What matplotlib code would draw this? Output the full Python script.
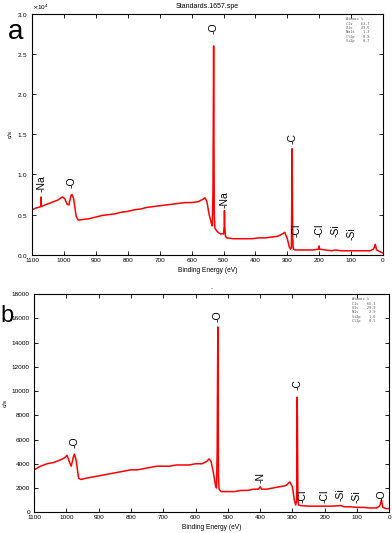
import matplotlib
matplotlib.use('Agg')
import matplotlib.pyplot as plt
from matplotlib.ticker import ScalarFormatter

plt.rcParams['font.family'] = ['Liberation Sans', 'DejaVu Sans']

# ---- panel a : survey spectrum (c/s) ----
energy_a = [1100, 1090, 1080, 1073, 1072, 1071, 1060, 1040, 1020, 1005, 998, 990, 985,
            978, 975, 970, 962, 955, 940, 920, 900, 880, 860, 840, 820, 800, 780, 760,
            740, 720, 700, 680, 660, 640, 620, 600, 580, 565, 558, 552, 545, 538, 535,
            533, 531, 529, 527, 520, 510, 500, 498, 497, 496, 494, 490, 470, 450, 430,
            410, 390, 370, 350, 330, 315, 308, 300, 294, 290, 287, 285, 283, 281, 275,
            260, 240, 220, 201, 200, 199, 180, 160, 150, 130, 110, 100, 80, 60, 40, 30,
            26, 24, 20, 10, 5, 0]
counts_a = [5600, 5800, 5900, 6000, 7200, 6000, 6200, 6500, 6800, 7200, 7000, 6300, 6200,
            7400, 7500, 7000, 4800, 4300, 4400, 4500, 4700, 4900, 5000, 5100, 5300, 5400,
            5600, 5700, 5900, 6000, 6100, 6200, 6300, 6400, 6500, 6500, 6600, 6900, 7100,
            6600, 5000, 3900, 3600, 8000, 26000, 5000, 3300, 2900, 2600, 2600, 3500, 5500,
            3500, 2300, 2100, 2000, 2000, 2000, 2000, 2100, 2100, 2200, 2300, 2600, 2800,
            2000, 1000, 700, 900, 13200, 2000, 700, 600, 600, 600, 600, 700, 1100, 700,
            600, 500, 600, 500, 500, 500, 500, 500, 500, 700, 1000, 1300, 600, 400, 300, 200]
labels_a = ['-Na', '-O', '-O', '-Na', '-C', '-Cl', '-Cl', '-Si', '-Si']
label_x_a = [1072, 975, 532, 497, 285, 270, 200, 150, 100]
label_y_a = [7800, 8300, 27500, 5800, 13800, 2200, 2200, 2200, 1900]
table_a = "Atomic %\nC1s    63.7\nO1s    33.5\nNa1s    1.3\nCl2p    0.8\nSi2p    0.7"

# ---- panel b ----
energy_b = [1100, 1080, 1060, 1040, 1020, 1005, 998, 990, 985, 978, 975, 970, 962, 955,
            940, 920, 900, 880, 860, 840, 820, 800, 780, 760, 740, 720, 700, 680, 660,
            640, 620, 600, 580, 565, 558, 552, 545, 538, 535, 533, 531, 529, 527, 520,
            500, 480, 460, 440, 420, 405, 400, 395, 380, 360, 340, 320, 308, 300, 294,
            290, 287, 285, 283, 281, 275, 250, 220, 200, 180, 150, 140, 120, 100, 80,
            60, 40, 30, 26, 24, 20, 10, 0]
counts_b = [3500, 3800, 4000, 4100, 4300, 4500, 4700, 4100, 3800, 4600, 4800, 4300, 2800,
            2700, 2800, 2900, 3000, 3100, 3200, 3300, 3400, 3500, 3500, 3600, 3700, 3800,
            3800, 3800, 3900, 3900, 3900, 4000, 4000, 4200, 4400, 4200, 3300, 2200, 2000,
            5000, 15300, 3000, 1900, 1700, 1700, 1700, 1800, 1800, 1900, 1900, 2100, 1900,
            1900, 2000, 2100, 2200, 2500, 2100, 1000, 600, 900, 9500, 1500, 600, 550, 500,
            500, 500, 500, 550, 450, 450, 400, 400, 350, 350, 500, 800, 1000, 400, 300, 300]
labels_b = ['-O', '-O', '-N', '-C', '-Cl', '-Cl', '-Si', '-Si', '-O']
label_x_b = [975, 532, 400, 285, 270, 200, 150, 100, 25]
label_y_b = [5300, 15700, 2400, 10100, 800, 800, 900, 800, 900]
table_b = "Atomic %\nC1s    65.1\nO1s    29.9\nN1s     2.9\nSi2p    1.6\nCl2p    0.5"

xticks = list(range(0, 1101, 100))

fig = plt.figure(figsize=(3.92, 5.33), dpi=100)
ax1 = fig.add_axes([0.082, 0.522, 0.895, 0.452])
ax2 = fig.add_axes([0.087, 0.039, 0.906, 0.409])

def style_ax(ax, ymax, ystep):
    ax.set_xlim(1100, 0)
    ax.set_ylim(0, ymax)
    ax.set_xticks(xticks)
    ax.set_yticks(range(0, ymax + 1, ystep))
    ax.tick_params(direction='in', top=True, right=True, length=3, width=0.6,
                   labelsize=4.6, pad=2)
    ax.tick_params(axis='y', pad=3)
    for s in ax.spines.values():
        s.set_linewidth(0.8)
    ax.set_xlabel('Binding Energy (eV)', fontsize=4.8, labelpad=3)
    ax.set_ylabel('c/s', fontsize=4.6, labelpad=3)

ax1.plot(energy_a, counts_a, color='red', lw=1.1)
style_ax(ax1, 30000, 5000)
fmt = ScalarFormatter(useMathText=True)
fmt.set_powerlimits((0, 0))
ax1.yaxis.set_major_formatter(fmt)
ax1.yaxis.get_offset_text().set_fontsize(4.6)
ax1.set_title('Standards.1657.spe', fontsize=5, pad=4)
for t, x, y in zip(labels_a, label_x_a, label_y_a):
    ax1.text(x, y, t, rotation=90, ha='center', va='bottom', fontsize=7.5)
ax1.text(0.895, 0.985, table_a, transform=ax1.transAxes, fontsize=2.6, va='top',
         ha='left', family='DejaVu Sans Mono', color='#555555', linespacing=1.1)
fig.text(0.02, 0.965, 'a', fontsize=20, va='top')

ax2.plot(energy_b, counts_b, color='red', lw=1.1)
style_ax(ax2, 18000, 2000)
ax2.set_title('.', fontsize=5, pad=4)
for t, x, y in zip(labels_b, label_x_b, label_y_b):
    ax2.text(x, y, t, rotation=90, ha='center', va='bottom', fontsize=7.5)
ax2.text(0.895, 0.985, table_b, transform=ax2.transAxes, fontsize=2.6, va='top',
         ha='left', family='DejaVu Sans Mono', color='#555555', linespacing=1.1)
fig.text(0.0, 0.428, 'b', fontsize=17, va='top')

fig.savefig('out.png', dpi=100)
